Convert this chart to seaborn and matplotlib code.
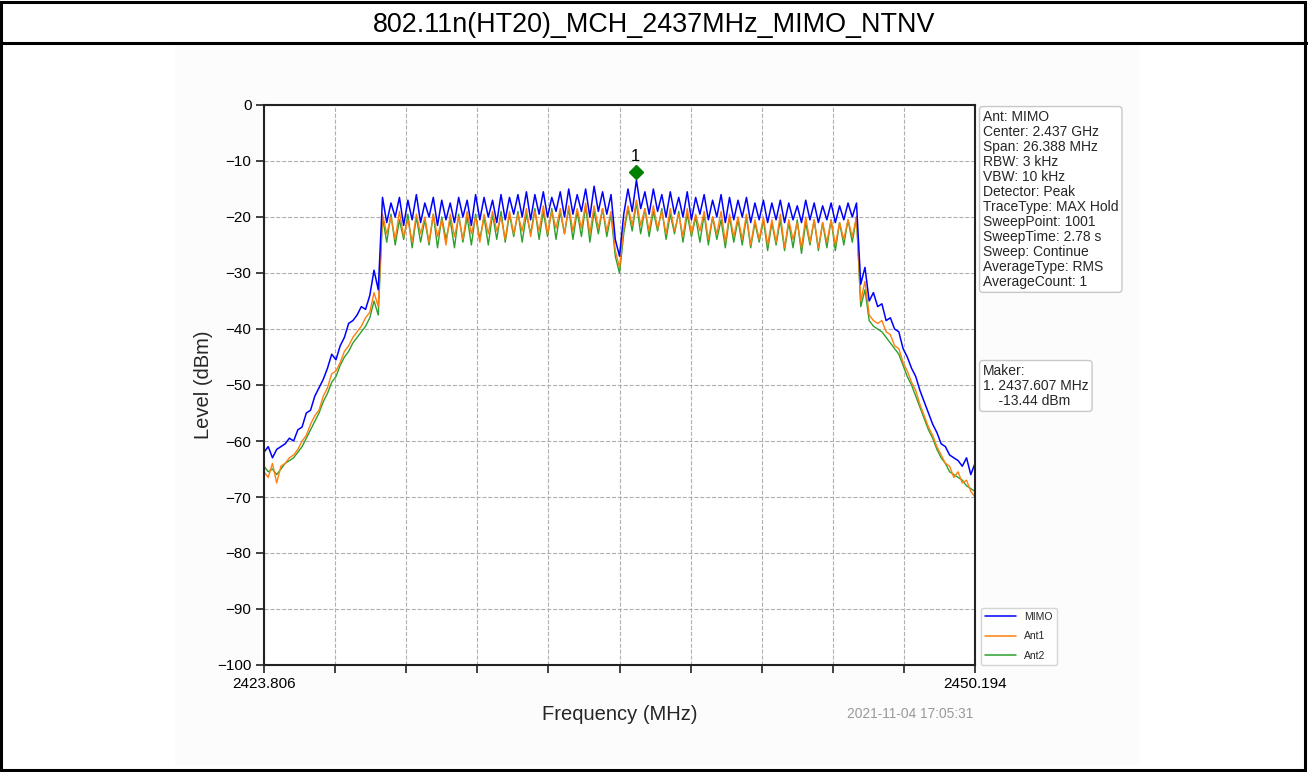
import numpy as np
import pandas as pd
import matplotlib
matplotlib.use("Agg")
import matplotlib.pyplot as plt
import matplotlib.transforms as mtransforms
from matplotlib.patches import Rectangle
import seaborn as sns

# sweep settings (read from the info box)
start_mhz = 2423.806
stop_mhz = 2450.194
n_points = 169

title_text = "802.11n(HT20)_MCH_2437MHz_MIMO_NTNV"
xtick_labels = ["2423.806", "", "", "", "", "", "", "", "", "", "2450.194"]
ytick_values = [0, -10, -20, -30, -40, -50, -60, -70, -80, -90, -100]

# levels in dBm
mimo_level = [
    -62.0, -61.0, -63.0, -61.5, -61.0, -60.5, -59.5, -60.0, -58.0, -57.5,
    -55.0, -54.5, -52.0, -50.5, -49.0, -47.0, -44.5, -45.5, -43.0, -41.5,
    -39.0, -38.5, -37.5, -36.0, -36.5, -34.0, -29.5, -33.0,
    -16.5, -21.0, -17.5, -20.0, -16.5, -21.5, -17.0, -20.5, -16.0, -21.0,
    -17.5, -20.0, -16.5, -21.5, -17.0, -20.5, -17.5, -21.0, -16.5, -20.0,
    -17.0, -21.5, -16.0, -20.5, -16.5, -20.0, -17.0, -21.0, -16.0, -20.5,
    -16.5, -19.5, -16.0, -20.0, -15.5, -20.5, -16.0, -19.5, -15.5, -20.0,
    -16.5, -19.0, -15.5, -20.0, -15.0, -19.5, -16.0, -19.0, -15.0, -20.0,
    -14.5, -19.0, -15.5, -19.5, -16.0,
    -24.0, -27.0, -19.5, -15.0, -19.0, -13.4,
    -18.5, -15.5, -19.5, -15.0, -19.0, -16.0, -20.0, -15.5, -19.5, -16.5,
    -20.0, -15.5, -20.5, -16.5, -19.5, -16.0, -20.5, -17.0, -20.0, -16.0,
    -21.0, -16.5, -20.5, -17.0, -20.0, -16.5, -21.0, -17.5, -20.5, -17.0,
    -21.0, -17.5, -20.5, -17.0, -21.0, -17.5, -20.5, -18.0, -21.0, -17.0,
    -20.5, -17.5, -21.0, -18.0, -20.5, -17.5, -21.0, -18.0, -20.5, -17.5,
    -20.0, -17.5,
    -32.0, -29.0, -35.0, -33.5, -36.0, -35.5, -38.5, -38.0, -40.0, -40.5,
    -43.5, -45.0, -47.0, -48.5, -51.0, -53.0, -55.0, -57.0, -58.5, -60.5,
    -61.0, -62.5, -63.0, -63.5, -64.5, -63.0, -66.0, -64.0,
]

ant1_level = [
    -65.5, -66.5, -64.0, -67.5, -64.5, -64.0, -63.0, -62.5, -61.5, -60.0,
    -59.0, -57.0, -55.5, -54.5, -52.0, -50.5, -48.0, -47.5, -46.0, -44.0,
    -43.0, -41.5, -40.5, -39.5, -38.0, -37.0, -33.5, -36.0,
    -19.5, -23.0, -20.0, -24.0, -19.0, -23.5, -20.5, -24.5, -19.5, -23.0,
    -20.0, -24.5, -19.5, -23.5, -20.5, -25.0, -19.5, -23.5, -20.0, -24.0,
    -19.0, -23.0, -20.0, -24.5, -19.5, -23.0, -19.0, -22.5, -20.0, -24.0,
    -19.0, -23.0, -19.5, -22.5, -18.5, -23.5, -19.0, -22.5, -18.0, -23.0,
    -19.0, -22.0, -18.5, -23.0, -18.0, -22.5, -18.5, -22.0, -17.5, -23.0,
    -18.0, -22.0, -18.5, -22.5, -19.0,
    -26.0, -29.0, -22.0, -18.0, -21.5, -17.0,
    -21.5, -18.5, -22.5, -18.0, -22.0, -19.0, -23.0, -18.5, -22.5, -19.5,
    -23.5, -18.5, -23.0, -19.5, -22.5, -19.0, -24.0, -20.0, -23.0, -19.0,
    -24.5, -19.5, -23.5, -20.0, -24.0, -19.5, -25.0, -20.5, -24.0, -20.0,
    -25.0, -20.5, -24.5, -19.5, -25.5, -20.5, -24.0, -21.0, -25.5, -20.0,
    -24.5, -20.5, -25.5, -21.0, -24.5, -20.5, -25.0, -21.0, -24.0, -20.5,
    -23.5, -20.0,
    -35.0, -31.5, -37.5, -38.5, -39.0, -38.5, -40.5, -41.0, -43.0, -43.5,
    -46.0, -47.5, -49.5, -51.0, -53.5, -55.5, -57.5, -59.0, -61.0, -62.5,
    -64.0, -64.5, -66.5, -65.5, -67.5, -67.0, -69.0, -70.0,
]

ant2_level = [
    -64.5, -65.5, -65.0, -66.0, -65.0, -64.0, -63.5, -63.0, -62.0, -61.0,
    -59.5, -58.0, -56.5, -55.0, -53.0, -51.5, -49.5, -48.5, -46.5, -45.0,
    -44.0, -42.5, -41.5, -40.5, -39.5, -38.0, -35.0, -37.5,
    -20.0, -24.5, -19.5, -25.0, -20.5, -24.0, -19.5, -25.5, -20.0, -24.5,
    -20.5, -25.0, -19.5, -25.5, -20.0, -24.0, -20.5, -25.5, -19.5, -24.5,
    -20.0, -25.0, -19.5, -24.0, -20.0, -25.0, -19.5, -24.0, -19.0, -24.5,
    -19.5, -23.5, -19.0, -24.5, -19.5, -23.0, -18.5, -24.0, -19.0, -23.5,
    -18.5, -24.0, -19.0, -23.0, -18.5, -24.0, -19.0, -23.5, -18.0, -24.5,
    -19.0, -23.0, -18.5, -23.5, -19.5,
    -27.0, -30.0, -23.0, -18.5, -22.5, -17.5,
    -23.0, -18.5, -23.5, -19.0, -22.5, -18.5, -24.0, -19.5, -23.0, -19.0,
    -24.5, -19.5, -23.5, -20.0, -24.5, -19.5, -25.0, -20.0, -24.0, -20.5,
    -25.5, -20.0, -24.5, -20.5, -25.0, -20.0, -25.5, -21.0, -24.5, -20.5,
    -26.0, -21.0, -25.0, -20.5, -26.0, -21.0, -25.5, -20.5, -26.5, -21.0,
    -25.0, -20.5, -26.0, -21.0, -25.5, -20.5, -26.0, -21.0, -25.0, -20.5,
    -24.5, -20.0,
    -36.0, -33.0, -38.5, -39.5, -40.0, -40.5, -41.5, -42.5, -43.5, -44.5,
    -46.5, -48.5, -50.0, -52.0, -54.0, -56.0, -58.0, -59.5, -61.5, -63.0,
    -64.0, -65.5, -66.0, -66.5, -67.0, -68.0, -68.5, -69.0,
]

marker_freq = 2437.607
marker_level = -13.44

info_lines = [
    "Ant: MIMO", "Center: 2.437 GHz", "Span: 26.388 MHz", "RBW: 3 kHz",
    "VBW: 10 kHz", "Detector: Peak", "TraceType: MAX Hold", "SweepPoint: 1001",
    "SweepTime: 2.78 s", "Sweep: Continue", "AverageType: RMS", "AverageCount: 1",
]
maker_lines = ["Maker:", "1. 2437.607 MHz", "    -13.44 dBm"]
timestamp = "2021-11-04 17:05:31"

trace_names = ["MIMO", "Ant1", "Ant2"]
trace_colors = {"MIMO": "#0000ff", "Ant1": "#ff7f0e", "Ant2": "#2ca02c"}

freq = np.linspace(start_mhz, stop_mhz, n_points)

df = pd.concat([
    pd.DataFrame({"freq": freq, "level": lv, "trace": name})
    for name, lv in zip(trace_names, [mimo_level, ant1_level, ant2_level])
])

sns.set_theme(style="ticks")
plt.rcParams["font.family"] = ["Liberation Sans", "DejaVu Sans"]

W, H = 1308, 772
fig = plt.figure(figsize=(W / 100, H / 100), dpi=100)
fig.patch.set_facecolor("white")

# background of the embedded chart image
fig.patches.append(Rectangle((175 / W, 1 - 765 / H), 965 / W, 720 / H,
                             transform=fig.transFigure, fc="#fcfcfc", ec="none", zorder=-5))
# outer frame and title row
fig.patches.append(Rectangle((0.001, 0.002), 0.997, 0.996, transform=fig.transFigure,
                             fill=False, ec="black", lw=2.2, zorder=5))
fig.lines.append(plt.Line2D([0, 1], [1 - 43 / H, 1 - 43 / H], transform=fig.transFigure,
                            color="black", lw=2.2, zorder=5))
fig.text(0.5, 1 - 24.5 / H, title_text, ha="center", va="center", fontsize=19.4, color="black")

ax = fig.add_axes([264 / W, 1 - 665 / H, 711 / W, 560 / H])
ax.set_zorder(2)
ax.set_facecolor("white")

sns.lineplot(data=df, x="freq", y="level", hue="trace", hue_order=trace_names[::-1],
             palette=trace_colors, linewidth=1.0, ax=ax, legend=False, sort=False)
for ln in ax.lines:
    if ln.get_color() == "#0000ff":
        ln.set_linewidth(1.1)

# marker 1
mk_tr = mtransforms.offset_copy(ax.transData, fig=fig, x=0, y=6, units="points")
ax.plot([marker_freq], [marker_level], marker="D", color="#008000", markersize=7,
        linestyle="none", transform=mk_tr, zorder=6)
ax.annotate("1", xy=(marker_freq, marker_level), xytext=(0, 17), textcoords="offset points",
            ha="center", va="center", fontsize=12, color="black")

ax.set_xlim(start_mhz, stop_mhz)
ax.set_ylim(-100, 0)
ax.set_xticks(np.linspace(start_mhz, stop_mhz, len(xtick_labels)))
ax.set_xticklabels(xtick_labels)
ax.set_yticks(ytick_values)
ax.tick_params(axis="both", labelsize=11, length=5.5, width=1.2, colors="#222222",
               labelcolor="black", direction="out")
ax.grid(True, linestyle="--", color="#b0b0b0", linewidth=0.8)
for sp in ax.spines.values():
    sp.set_visible(True)
    sp.set_color("#222222")
    sp.set_linewidth(1.5)

ax.set_xlabel("Frequency (MHz)", fontsize=14.5, labelpad=10)
ax.set_ylabel("Level (dBm)", fontsize=14.5, labelpad=3)

handles = [plt.Line2D([], [], color=trace_colors[n], lw=1.1) for n in trace_names]
ax.legend(handles, trace_names, loc="lower left", bbox_to_anchor=(1.008, 0.0),
          borderaxespad=0, fontsize=7.5, frameon=True, handlelength=3.0,
          labelspacing=0.9, edgecolor="#cccccc", fancybox=True)

box_style = dict(boxstyle="round,pad=0.25", fc="white", ec="#c8c8c8", lw=1.0)
fig.text(983 / W, 1 - 110 / H, "\n".join(info_lines), ha="left", va="top",
         fontsize=10, linespacing=1.09, bbox=box_style)
fig.text(983 / W, 1 - 364 / H, "\n".join(maker_lines), ha="left", va="top",
         fontsize=10, linespacing=1.09, bbox=box_style)
fig.text(910 / W, 1 - 714 / H, timestamp, ha="center", va="center",
         fontsize=9.9, color="#999999")

fig.savefig("out.png", dpi=100)
